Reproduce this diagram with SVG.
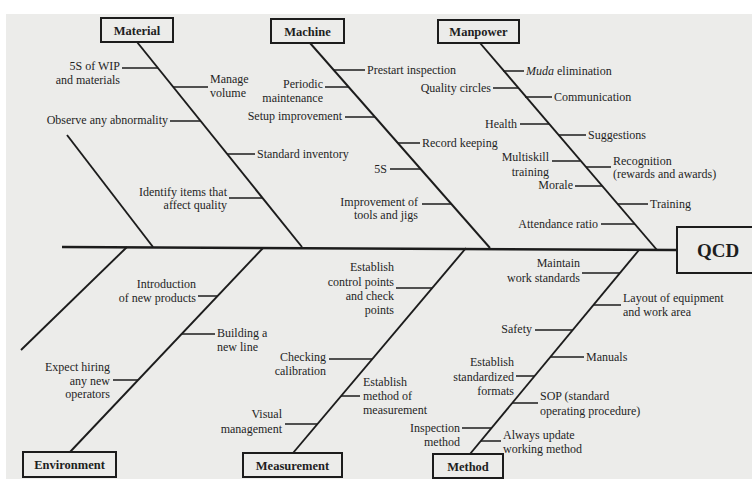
<svg xmlns="http://www.w3.org/2000/svg" width="752" height="479" viewBox="0 0 752 479">
  <style>
    .paper { fill: #ececea; }
    .box { fill: none; stroke: #1c1c1c; stroke-width: 2; }
    .title { font-family: "Liberation Serif", "DejaVu Serif", serif; font-size: 12.5px; font-weight: bold; fill: #1e1e1e; text-anchor: middle; }
    .qcd { font-family: "Liberation Serif", "DejaVu Serif", serif; font-size: 19px; font-weight: bold; fill: #1e1e1e; text-anchor: middle; }
    .lbl { font-family: "Liberation Serif", "DejaVu Serif", serif; font-size: 12px; fill: #1f1f1f; }
    .r { text-anchor: end; }
    .spine { stroke: #1c1c1c; stroke-width: 2.4; fill: none; }
    .bone { stroke: #1c1c1c; stroke-width: 1.9; fill: none; }
    .stub { stroke: #1c1c1c; stroke-width: 1.5; fill: none; }
  </style>

  <!-- page -->
  <rect x="0" y="0" width="752" height="479" fill="#ffffff"/>
  <rect class="paper" x="6" y="14" width="746" height="465"/>

  <!-- connectors: spine, category bones and cause stubs -->
  <g id="connectors">
    <line class="spine" x1="62" y1="247" x2="677" y2="250"/>
    <!-- category bones -->
    <line class="bone" x1="137" y1="42" x2="302" y2="247"/>
    <line class="bone" x1="310" y1="43" x2="490" y2="248"/>
    <line class="bone" x1="480" y1="43" x2="657" y2="250"/>
    <line class="bone" x1="67" y1="135" x2="153" y2="247"/>
    <line class="bone" x1="127" y1="247" x2="21" y2="350"/>
    <line class="bone" x1="263" y1="248" x2="70" y2="452"/>
    <line class="bone" x1="466" y1="248" x2="293" y2="453"/>
    <line class="bone" x1="639" y1="250" x2="470" y2="454"/>
    <!-- Material stubs -->
    <line class="stub" x1="122" y1="68" x2="158" y2="68"/>
    <line class="stub" x1="173" y1="87" x2="208" y2="87"/>
    <line class="stub" x1="170" y1="121" x2="201" y2="121"/>
    <line class="stub" x1="227" y1="154" x2="255" y2="154"/>
    <line class="stub" x1="229" y1="198" x2="263" y2="198"/>
    <!-- Machine stubs -->
    <line class="stub" x1="334" y1="70" x2="365" y2="70"/>
    <line class="stub" x1="325" y1="87" x2="349" y2="87"/>
    <line class="stub" x1="345" y1="117" x2="375" y2="117"/>
    <line class="stub" x1="398" y1="143" x2="420" y2="143"/>
    <line class="stub" x1="390" y1="169" x2="421" y2="169"/>
    <line class="stub" x1="422" y1="204" x2="451" y2="204"/>
    <!-- Manpower stubs -->
    <line class="stub" x1="503" y1="71" x2="524" y2="71"/>
    <line class="stub" x1="493" y1="88" x2="518" y2="88"/>
    <line class="stub" x1="525" y1="97" x2="552" y2="97"/>
    <line class="stub" x1="520" y1="124" x2="549" y2="124"/>
    <line class="stub" x1="558" y1="135" x2="586" y2="135"/>
    <line class="stub" x1="552" y1="161" x2="580" y2="161"/>
    <line class="stub" x1="586" y1="167" x2="611" y2="167"/>
    <line class="stub" x1="575" y1="186" x2="602" y2="186"/>
    <line class="stub" x1="617" y1="204" x2="648" y2="204"/>
    <line class="stub" x1="601" y1="224" x2="635" y2="224"/>
    <!-- Environment stubs -->
    <line class="stub" x1="198" y1="296" x2="218" y2="296"/>
    <line class="stub" x1="182" y1="334" x2="215" y2="334"/>
    <line class="stub" x1="113" y1="380" x2="138" y2="380"/>
    <!-- Measurement stubs -->
    <line class="stub" x1="396" y1="288" x2="432" y2="288"/>
    <line class="stub" x1="329" y1="359" x2="372" y2="359"/>
    <line class="stub" x1="341" y1="396" x2="360" y2="396"/>
    <line class="stub" x1="285" y1="424" x2="317" y2="424"/>
    <!-- Method stubs -->
    <line class="stub" x1="582" y1="273" x2="620" y2="273"/>
    <line class="stub" x1="593" y1="305" x2="621" y2="305"/>
    <line class="stub" x1="535" y1="330" x2="573" y2="330"/>
    <line class="stub" x1="550" y1="357" x2="584" y2="357"/>
    <line class="stub" x1="516" y1="376" x2="535" y2="376"/>
    <line class="stub" x1="512" y1="403" x2="538" y2="403"/>
    <line class="stub" x1="462" y1="428" x2="492" y2="428"/>
    <line class="stub" x1="481" y1="441" x2="501" y2="441"/>
  </g>

  <!-- category heads -->
  <g id="material"><rect class="box" x="101" y="18" width="72" height="24"/><text class="title" x="137" y="34.5">Material</text></g>
  <g id="machine"><rect class="box" x="271" y="19" width="73" height="24"/><text class="title" x="307.5" y="35.5">Machine</text></g>
  <g id="manpower"><rect class="box" x="438" y="20" width="81" height="23"/><text class="title" x="478.5" y="36">Manpower</text></g>
  <g id="environment"><rect class="box" x="23" y="452" width="93" height="25"/><text class="title" x="69.5" y="469">Environment</text></g>
  <g id="measurement"><rect class="box" x="243" y="453" width="99" height="24"/><text class="title" x="292.5" y="470">Measurement</text></g>
  <g id="method"><rect class="box" x="433" y="454" width="70" height="24"/><text class="title" x="468" y="471">Method</text></g>
  <g id="qcd"><rect class="box" x="677" y="227" width="82" height="46"/><text class="qcd" x="718" y="257">QCD</text></g>

  <!-- Material causes -->
  <g id="c-5s-wip"><text class="lbl r" x="120" y="70">5S of WIP</text><text class="lbl r" x="120" y="84">and materials</text></g>
  <g id="c-manage-volume"><text class="lbl" x="210" y="83">Manage</text><text class="lbl" x="210" y="97">volume</text></g>
  <g id="c-observe"><text class="lbl r" x="168" y="124">Observe any abnormality</text></g>
  <g id="c-standard-inventory"><text class="lbl" x="257" y="158">Standard inventory</text></g>
  <g id="c-identify"><text class="lbl r" x="227" y="196">Identify items that</text><text class="lbl r" x="227" y="209">affect quality</text></g>

  <!-- Machine causes -->
  <g id="c-prestart"><text class="lbl" x="367" y="74">Prestart inspection</text></g>
  <g id="c-periodic"><text class="lbl r" x="323" y="88">Periodic</text><text class="lbl r" x="323" y="102">maintenance</text></g>
  <g id="c-setup"><text class="lbl r" x="342" y="120">Setup improvement</text></g>
  <g id="c-record"><text class="lbl" x="422" y="147">Record keeping</text></g>
  <g id="c-5s"><text class="lbl r" x="387" y="173">5S</text></g>
  <g id="c-tools"><text class="lbl r" x="418" y="206">Improvement of</text><text class="lbl r" x="418" y="219">tools and jigs</text></g>

  <!-- Manpower causes -->
  <g id="c-muda"><text class="lbl" x="526" y="75"><tspan font-style="italic">Muda</tspan> elimination</text></g>
  <g id="c-quality-circles"><text class="lbl r" x="491" y="92">Quality circles</text></g>
  <g id="c-communication"><text class="lbl" x="554" y="101">Communication</text></g>
  <g id="c-health"><text class="lbl r" x="517" y="128">Health</text></g>
  <g id="c-suggestions"><text class="lbl" x="588" y="139">Suggestions</text></g>
  <g id="c-multiskill"><text class="lbl r" x="549" y="161">Multiskill</text><text class="lbl r" x="549" y="176">training</text></g>
  <g id="c-recognition"><text class="lbl" x="613" y="165">Recognition</text><text class="lbl" x="613" y="178">(rewards and awards)</text></g>
  <g id="c-morale"><text class="lbl r" x="573" y="189">Morale</text></g>
  <g id="c-training"><text class="lbl" x="650" y="208">Training</text></g>
  <g id="c-attendance"><text class="lbl r" x="598" y="228">Attendance ratio</text></g>

  <!-- Environment causes -->
  <g id="c-new-products"><text class="lbl r" x="196" y="288">Introduction</text><text class="lbl r" x="196" y="302">of new products</text></g>
  <g id="c-new-line"><text class="lbl" x="217" y="337">Building a</text><text class="lbl" x="217" y="351">new line</text></g>
  <g id="c-hiring"><text class="lbl r" x="110" y="371">Expect hiring</text><text class="lbl r" x="110" y="385">any new</text><text class="lbl r" x="110" y="398">operators</text></g>

  <!-- Measurement causes -->
  <g id="c-control-points"><text class="lbl r" x="394" y="271">Establish</text><text class="lbl r" x="394" y="286">control points</text><text class="lbl r" x="394" y="300">and check</text><text class="lbl r" x="394" y="314">points</text></g>
  <g id="c-calibration"><text class="lbl r" x="326" y="361">Checking</text><text class="lbl r" x="326" y="375">calibration</text></g>
  <g id="c-measure-method"><text class="lbl" x="363" y="386">Establish</text><text class="lbl" x="363" y="400">method of</text><text class="lbl" x="363" y="414">measurement</text></g>
  <g id="c-visual"><text class="lbl r" x="282" y="418">Visual</text><text class="lbl r" x="282" y="433">management</text></g>

  <!-- Method causes -->
  <g id="c-work-standards"><text class="lbl r" x="580" y="267">Maintain</text><text class="lbl r" x="580" y="282">work standards</text></g>
  <g id="c-layout"><text class="lbl" x="623" y="302">Layout of equipment</text><text class="lbl" x="623" y="316">and work area</text></g>
  <g id="c-safety"><text class="lbl r" x="532" y="333">Safety</text></g>
  <g id="c-manuals"><text class="lbl" x="586" y="361">Manuals</text></g>
  <g id="c-formats"><text class="lbl r" x="514" y="366">Establish</text><text class="lbl r" x="514" y="381">standardized</text><text class="lbl r" x="514" y="395">formats</text></g>
  <g id="c-sop"><text class="lbl" x="540" y="400">SOP (standard</text><text class="lbl" x="540" y="415">operating procedure)</text></g>
  <g id="c-inspection"><text class="lbl r" x="460" y="432">Inspection</text><text class="lbl r" x="460" y="446">method</text></g>
  <g id="c-always-update"><text class="lbl" x="503" y="439">Always update</text><text class="lbl" x="503" y="453">working method</text></g>
</svg>
